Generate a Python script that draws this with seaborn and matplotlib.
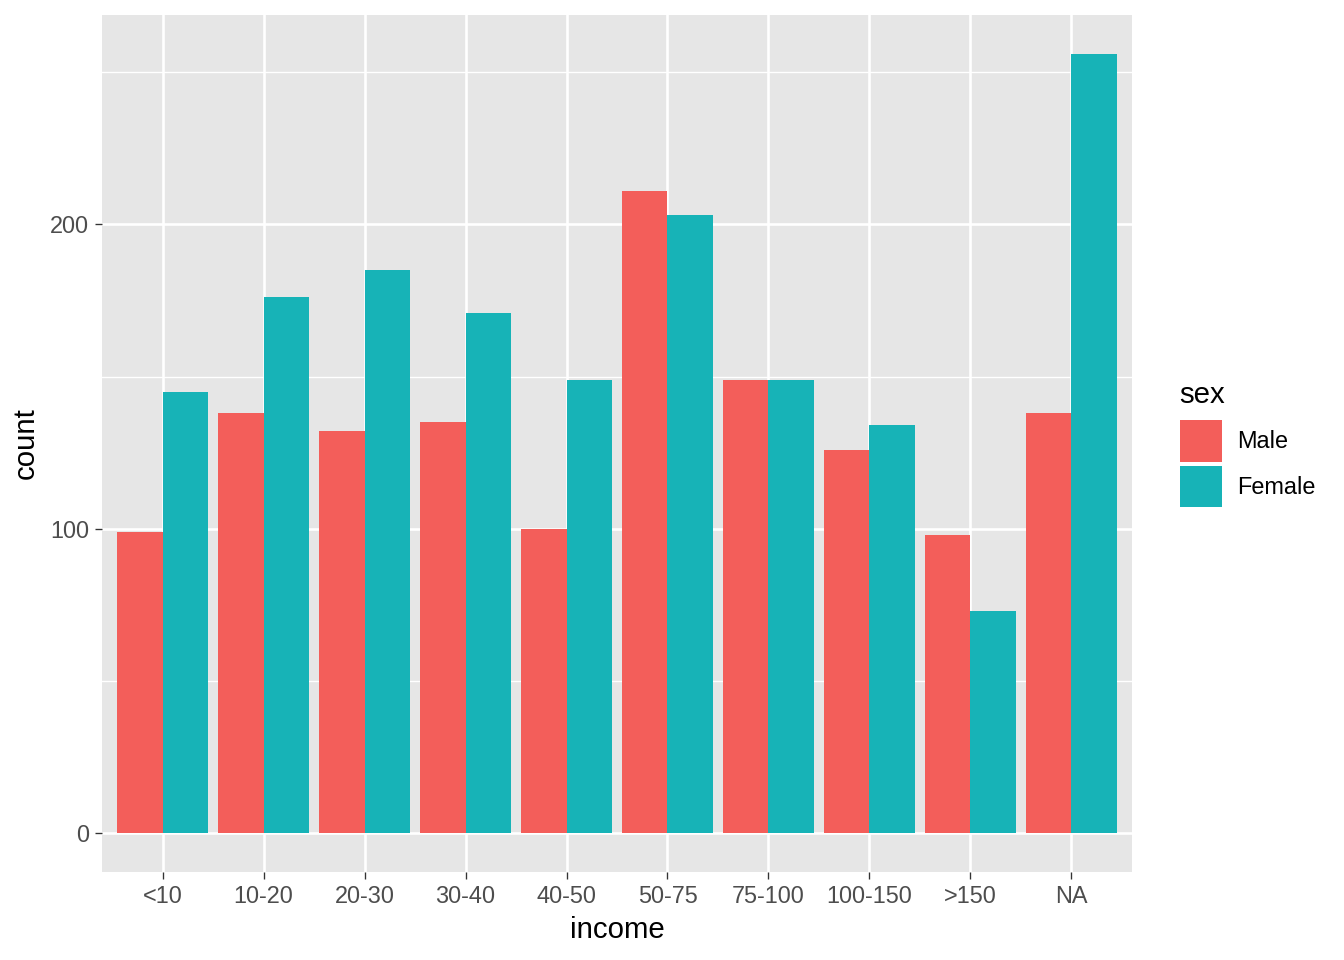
import numpy as np
import pandas as pd
import seaborn as sns
import matplotlib.pyplot as plt
from matplotlib.ticker import MultipleLocator

income = ['<10', '10-20', '20-30', '30-40', '40-50', '50-75', '75-100', '100-150', '>150', 'NA']
male = [99, 138, 132, 135, 100, 211, 149, 126, 98, 138]
female = [145, 176, 185, 171, 149, 203, 149, 134, 73, 256]
sexes = ['Male', 'Female']
colors = ['#F35E5A', '#17B3B7']

df = pd.DataFrame({
    'income': income * 2,
    'sex': ['Male'] * len(income) + ['Female'] * len(income),
    'count': male + female,
})

plt.rcParams['font.family'] = ['Liberation Sans', 'DejaVu Sans']

fig = plt.figure(figsize=(7, 5), dpi=192)
ax = fig.add_axes([102 / 1344, 1 - 872 / 960, (1132 - 102) / 1344, (872 - 15) / 960])

sns.barplot(data=df, x='income', y='count', hue='sex', order=income, hue_order=sexes,
            palette=colors, width=0.9, saturation=1, linewidth=0, ax=ax, zorder=3)

ax.set_facecolor('#E6E6E6')
for s in ax.spines.values():
    s.set_visible(False)
ax.set_xlim(-0.6, len(income) - 0.4)
ymax = max(max(male), max(female))
ax.set_ylim(-0.05 * ymax, 1.05 * ymax)
ax.yaxis.set_major_locator(MultipleLocator(100))
ax.yaxis.set_minor_locator(MultipleLocator(50))
ax.grid(which='major', color='white', linewidth=1.0, zorder=0)
ax.grid(which='minor', axis='y', color='white', linewidth=0.5, zorder=0)
ax.set_axisbelow(True)
ax.tick_params(which='major', length=2.75, width=0.5, color='#333333',
               labelsize=8.8, labelcolor='#4D4D4D', pad=2)
ax.tick_params(which='minor', length=0)
ax.set_xlabel('income', fontsize=11, labelpad=3)
ax.set_ylabel('count', fontsize=11, labelpad=4)

ax.get_legend().remove()
handles = [plt.Rectangle((0, 0), 1, 1, facecolor=c, edgecolor='none') for c in colors]
leg = fig.legend(handles, sexes, title='sex', loc='upper left',
                 bbox_to_anchor=(1168 / 1344, 1 - 369 / 960), frameon=False,
                 fontsize=8.8, title_fontsize=11, handlelength=1.79, handleheight=2.35,
                 labelspacing=0.17, handletextpad=0.65, borderpad=0)
leg._legend_box.align = 'left'
leg._legend_box.sep = 4.2

fig.savefig('out.png', dpi=192, facecolor='white')
